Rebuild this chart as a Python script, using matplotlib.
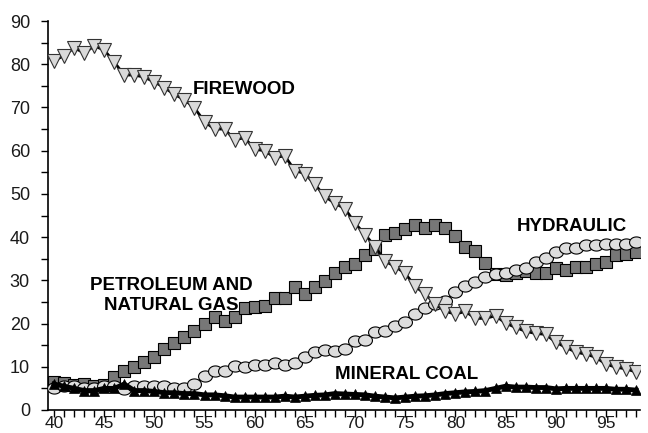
import numpy as np
import matplotlib
matplotlib.use("Agg")
import matplotlib.pyplot as plt
from matplotlib.path import Path
from matplotlib.ticker import MultipleLocator

years = list(range(40, 99))

firewood = [80.8, 82.0, 83.8, 82.6, 84.2, 83.3, 80.5, 77.5, 77.5, 77.0,
            75.9, 74.6, 73.0, 71.8, 69.9, 66.7, 65.0, 65.0, 62.5, 63.0,
            60.3, 60.0, 58.4, 58.8, 55.4, 54.7, 52.2, 49.4, 47.8, 46.6,
            43.2, 40.6, 37.8, 34.4, 33.2, 31.6, 28.6, 26.8, 24.5, 22.8,
            22.2, 22.8, 21.2, 21.2, 21.8, 20.1, 19.1, 18.2, 17.7, 17.5,
            15.7, 14.5, 13.4, 12.9, 12.2, 10.6, 9.9, 9.5, 8.8]

petroleum = [6.5, 6.2, 5.8, 5.9, 5.6, 5.8, 7.6, 9.0, 9.9, 11.0,
             12.2, 14.0, 15.6, 16.8, 18.2, 19.8, 21.5, 20.5, 21.5, 23.5,
             23.8, 24.0, 26.0, 26.0, 28.4, 26.8, 28.4, 29.8, 31.8, 33.0,
             33.7, 35.8, 37.2, 40.4, 41.0, 41.8, 42.9, 42.2, 42.7, 42.2,
             40.2, 37.8, 36.7, 33.9, 31.4, 31.2, 31.8, 32.1, 31.8, 31.8,
             32.8, 32.5, 33.2, 33.2, 33.7, 34.2, 35.8, 36.2, 36.5]

hydraulic = [5.0, 5.5, 5.5, 5.0, 5.0, 5.5, 5.5, 4.8, 5.5, 5.5,
             5.5, 5.5, 5.0, 5.2, 6.0, 7.8, 9.0, 9.0, 10.1, 10.0,
             10.4, 10.4, 10.8, 10.4, 10.8, 12.2, 13.4, 13.8, 13.6, 14.1,
             16.0, 16.2, 18.0, 18.2, 19.4, 20.3, 22.2, 23.5, 24.5, 25.2,
             27.2, 28.6, 29.5, 30.7, 31.4, 31.8, 32.3, 32.8, 34.2, 35.1,
             36.5, 37.4, 37.4, 38.1, 38.1, 38.5, 38.3, 38.3, 38.8]

coal = [6.0, 5.5, 5.0, 4.5, 4.5, 5.0, 5.0, 6.0, 4.5, 4.5,
        4.3, 4.0, 4.0, 3.8, 3.8, 3.5, 3.5, 3.3, 3.0, 3.0,
        3.0, 3.0, 3.0, 3.2, 3.0, 3.2, 3.4, 3.5, 3.8, 3.7,
        3.6, 3.5, 3.2, 3.0, 2.8, 3.0, 3.2, 3.3, 3.5, 3.8,
        4.0, 4.2, 4.3, 4.5, 5.0, 5.5, 5.3, 5.3, 5.2, 5.2,
        4.9, 5.0, 5.0, 5.0, 5.0, 5.0, 4.8, 4.8, 4.6]

xtick_labels = ["40", "45", "50", "55", "60", "65", "70", "75", "80", "85", "90", "95"]

plt.rcParams['font.family'] = ['Liberation Sans', 'DejaVu Sans']

fig = plt.figure(figsize=(6.48, 4.33), dpi=100)
ax = fig.add_axes([48/648, 1-410/433, (640-48)/648, (410-21)/433])

theta = np.linspace(0, 2*np.pi, 60)
ellipse = Path(np.column_stack([1.25*np.cos(theta), np.sin(theta)]), closed=True)

ax.plot(years, petroleum, color='black', lw=1.5, marker='s', ms=8.2,
        mfc='#777777', mec='black', mew=0.8, zorder=2)
ax.plot(years, hydraulic, color='black', lw=1.5, marker=ellipse, ms=10,
        mfc='#dddddd', mec='black', mew=0.8, zorder=3)
ax.plot(years, coal, color='black', lw=3.5, marker='^', ms=7.5,
        mfc='black', mec='black', mew=0.5, zorder=4)
ax.plot(years, firewood, color='black', lw=2.0, marker='v', ms=9.5,
        mfc='#d9d9d9', mec='#333333', mew=0.8, zorder=5)

ax.set_xlim(39.4, 98.4)
ax.set_ylim(0, 90)
ax.spines['top'].set_visible(False)
ax.spines['right'].set_visible(False)
ax.spines['left'].set_linewidth(1.2)
ax.spines['bottom'].set_linewidth(1.2)

ax.set_xticks(range(40, 99, 5))
ax.set_xticklabels(xtick_labels)
ax.xaxis.set_minor_locator(MultipleLocator(1))
ax.yaxis.set_major_locator(MultipleLocator(10))
ax.yaxis.set_minor_locator(MultipleLocator(5))
ax.tick_params(axis='both', which='both', direction='out', length=5, width=1, color='black')
ax.tick_params(axis='y', which='major', labelsize=13, labelcolor='#1a1a1a', pad=8)
ax.tick_params(axis='x', which='major', labelsize=12.5, labelcolor='#1a1a1a', pad=-1)

lab = dict(fontsize=13.5, fontweight='bold', color='black')
ax.text(53.8, 74.2, "FIREWOOD", ha='left', va='center', **lab)
ax.text(51.7, 26.5, "PETROLEUM AND\nNATURAL GAS", ha='center', va='center',
        linespacing=1.3, **lab)
ax.text(86.1, 42.5, "HYDRAULIC", ha='left', va='center', **lab)
ax.text(68.0, 8.3, "MINERAL COAL", ha='left', va='center', **lab)

fig.savefig("out.png", dpi=100)
